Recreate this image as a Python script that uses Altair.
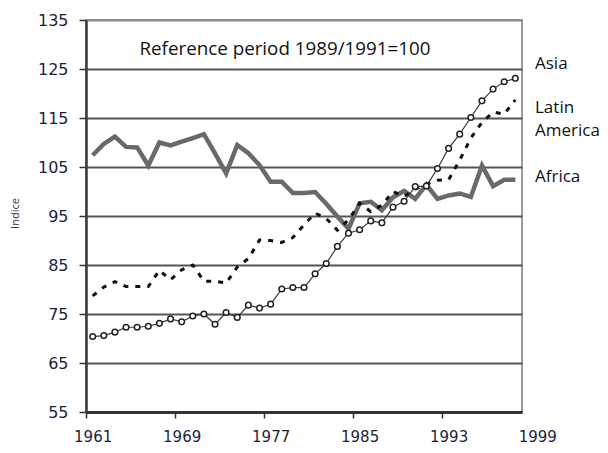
import altair as alt
import pandas as pd

years = list(range(1961, 2000))

asia = [70.4, 70.6, 71.3, 72.3, 72.3, 72.5, 73.1, 74.0, 73.4, 74.6,
        75.0, 72.9, 75.3, 74.3, 76.8, 76.2, 77.0, 80.1, 80.4, 80.4,
        83.2, 85.3, 88.8, 91.5, 92.2, 94.0, 93.6, 96.8, 98.0, 101.0,
        101.1, 104.7, 108.8, 111.7, 115.1, 118.5, 120.9, 122.4, 123.1]

latin_america = [78.7, 80.5, 81.6, 80.6, 80.6, 80.6, 83.9, 82.0, 84.0, 85.0,
                 81.7, 81.7, 81.3, 84.6, 86.3, 90.1, 90.0, 89.6, 90.6, 93.2,
                 95.6, 94.5, 92.1, 94.2, 97.6, 95.9, 97.2, 100.0, 99.0, 100.5,
                 101.5, 102.3, 102.4, 106.4, 110.9, 114.1, 116.2, 115.8, 118.7]

africa = [107.4, 109.7, 111.2, 109.1, 109.0, 105.3, 110.0, 109.4, 110.2, 110.9,
          111.7, 107.8, 103.7, 109.5, 107.8, 105.4, 102.0, 102.0, 99.7, 99.7,
          99.9, 97.5, 94.9, 92.4, 97.6, 97.9, 96.2, 98.8, 100.1, 98.5,
          101.4, 98.5, 99.2, 99.6, 98.9, 105.3, 101.1, 102.4, 102.4]

x_ticks = [1961, 1969, 1977, 1985, 1993, 1999]
y_ticks = [55, 65, 75, 85, 95, 105, 115, 125, 135]

df = pd.DataFrame({"year": years, "Asia": asia,
                   "Latin America": latin_america, "Africa": africa})
long = df.melt("year", var_name="region", value_name="indice")

label_color = "#1e1e3c"

x_enc = alt.X(
    "year:Q",
    scale=alt.Scale(domain=[1960.4, 1999.6], nice=False, zero=False),
    axis=alt.Axis(
        values=x_ticks, format="d", title=None, grid=False,
        tickSize=6, tickWidth=1.5, tickColor="#333333",
        tickOffset=-7,
        tickOpacity={"condition": {"test": "datum.value == 1999", "value": 0}, "value": 1},
        labelOffset={"condition": {"test": "datum.value == 1999", "value": 29}, "value": 7},
        labelPadding=11, labelFont="DejaVu Sans", labelFontSize=15,
        labelColor=label_color, labelFlush=False,
        domainColor="#333333", domainWidth=3,
    ),
)

y_enc = alt.Y(
    "indice:Q",
    scale=alt.Scale(domain=[55, 135], nice=False, zero=False),
    axis=alt.Axis(
        values=y_ticks, title="Indice", grid=True,
        gridColor={"condition": {"test": "datum.value == 135", "value": "#8c8c8c"}, "value": "#555555"},
        gridWidth=2,
        tickSize=7, tickWidth=1.5, tickColor="#333333",
        labelPadding=11, labelFont="DejaVu Sans", labelFontSize=16,
        labelColor=label_color,
        domainColor="#3a3a3a", domainWidth=2.5,
        titleFont="Open Sans", titleFontSize=11, titleFontWeight="normal",
        titleColor="#333333", titleX=-71, titleY=193, titleAngle=270,
        titleAlign="center", titleBaseline="middle",
    ),
)

base = alt.Chart(long).encode(x=x_enc, y=y_enc)

africa_line = base.transform_filter(alt.datum.region == "Africa").mark_line(
    color="#696969", strokeWidth=4.5)
latin_line = base.transform_filter(alt.datum.region == "Latin America").mark_line(
    color="#111111", strokeWidth=3, strokeDash=[5, 7])
asia_line = base.transform_filter(alt.datum.region == "Asia").mark_line(
    color="#3a3a3a", strokeWidth=1.2)
asia_pts = base.transform_filter(alt.datum.region == "Asia").mark_point(
    shape="circle", size=32, filled=True, fill="white", stroke="#222222",
    strokeWidth=1.5, opacity=1)

one = pd.DataFrame({"a": [0]})


def note(txt, xpix, ypix, size, align="left"):
    return alt.Chart(one).mark_text(
        text=txt, align=align, baseline="middle", font="Open Sans",
        fontSize=size, color="#111111", lineBreak="\n", lineHeight=23,
    ).encode(x=alt.value(xpix), y=alt.value(ypix))


ref_note = note("Reference period 1989/1991=100", 199, 29, 18.8, align="center")
asia_lab = note("Asia", 449, 44, 17)
latin_lab = note("Latin\nAmerica", 449, 88, 17)
africa_lab = note("Africa", 449, 157, 17)

chart = alt.layer(
    africa_line, latin_line, asia_line, asia_pts,
    ref_note, asia_lab, latin_lab, africa_lab,
).properties(
    width=436, height=392,
    autosize=alt.AutoSizeParams(type="none"),
    padding={"left": 78, "top": 12, "right": 78, "bottom": 33},
).configure_view(stroke="#9a9a9a", strokeWidth=2)

chart.save("out.html", embed_options={"renderer": "svg", "actions": False})
